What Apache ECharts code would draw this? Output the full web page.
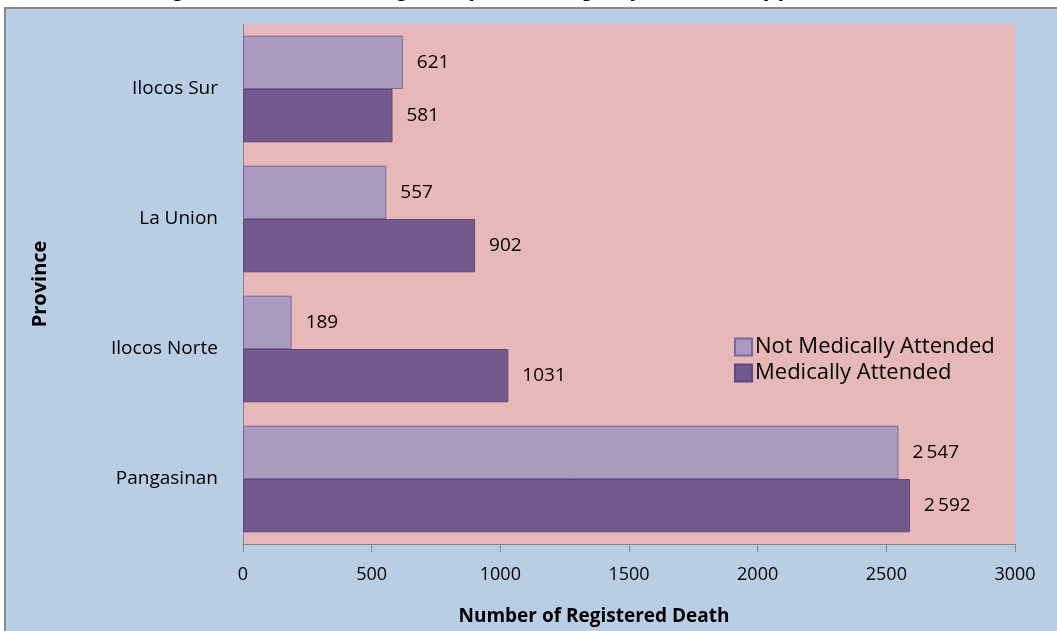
<!DOCTYPE html>
<html>
<head>
<meta charset="utf-8">
<script src="https://cdn.jsdelivr.net/npm/echarts@6/dist/echarts.min.js"></script>
<style>
html,body{margin:0;padding:0;background:#fff;}
#c{width:1057px;height:631px;}
</style>
</head>
<body>
<div id="c"></div>
<script>
const provinces = ['Pangasinan', 'Ilocos Norte', 'La Union', 'Ilocos Sur'];
const notMedicallyAttended = [2547, 189, 557, 621];
const medicallyAttended = [2592, 1031, 902, 581];
const xTicks = [0, 500, 1000, 1500, 2000, 2500, 3000];
const seriesNames = ['Not Medically Attended', 'Medically Attended'];

function fmt(v) {
  if (v >= 2000) return Math.floor(v / 1000) + '\u2009' + String(v % 1000).padStart(3, '0');
  return String(v);
}

const chart = echarts.init(document.getElementById('c'), null, {renderer: 'canvas'});
const font = '"Open Sans", "Noto Sans", sans-serif';
const labelCfg = {
  show: true, position: 'right', distance: 14,
  color: '#000', fontFamily: font, fontSize: 19,
  formatter: p => fmt(p.value)
};
chart.setOption({
  animation: false,
  backgroundColor: '#fff',
  graphic: [
    {type: 'rect', z: -10, shape: {x: 5, y: 8, width: 1100, height: 700},
     style: {fill: '#B9CDE5', stroke: '#8a8a8a', lineWidth: 2}},
    {type: 'text', z: -5, x: 140, y: 1,
     style: {text: 'Registered Deaths, Region I (Ilocos Region) 2010, Philippines',
       fill: '#000', font: 'bold 24px "Liberation Sans", Arial, sans-serif',
       textVerticalAlign: 'bottom', textAlign: 'left'}}
  ],
  grid: {left: 243, right: 42, top: 24, bottom: 83,
         show: true, backgroundColor: '#E6B9B8', borderWidth: 0},
  legend: {
    data: seriesNames, orient: 'vertical', left: 729, top: 331,
    itemWidth: 17, itemHeight: 17, itemGap: 4,
    textStyle: {fontFamily: font, fontSize: 22, color: '#000', padding: [0,0,0,-2]},
    icon: 'rect'
  },
  xAxis: {
    type: 'value', min: 0, max: 3000, interval: 500,
    name: 'Number of Registered Death', nameLocation: 'middle', nameGap: 63,
    nameTextStyle: {fontFamily: font, fontSize: 19, fontWeight: 'bold', color: '#000',
      padding: [0, 70, 0, 0]},
    axisLine: {show: true, lineStyle: {color: '#868686', width: 1}},
    axisTick: {show: true, length: 8, lineStyle: {color: '#868686'}},
    axisLabel: {fontFamily: font, fontSize: 18, color: '#000', margin: 22,
      formatter: v => String(v)},
    splitLine: {show: false}
  },
  yAxis: {
    type: 'category', data: provinces,
    name: 'Province', nameLocation: 'middle', nameGap: 193, nameRotate: 90,
    nameTextStyle: {fontFamily: font, fontSize: 20, fontWeight: 'bold', color: '#000'},
    axisLine: {show: true, lineStyle: {color: '#868686', width: 1}},
    axisTick: {show: false},
    axisLabel: {fontFamily: font, fontSize: 19, color: '#000', margin: 25}
  },
  series: [
    {name: seriesNames[0], type: 'bar', data: notMedicallyAttended,
     barGap: '0%', barCategoryGap: '18%',
     itemStyle: {color: '#A99BBF', borderColor: '#7B659A', borderWidth: 1},
     label: labelCfg},
    {name: seriesNames[1], type: 'bar', data: medicallyAttended,
     barGap: '0%', barCategoryGap: '18%',
     itemStyle: {color: '#72598E', borderColor: '#5E4779', borderWidth: 1},
     label: labelCfg}
  ]
});
</script>
</body>
</html>
